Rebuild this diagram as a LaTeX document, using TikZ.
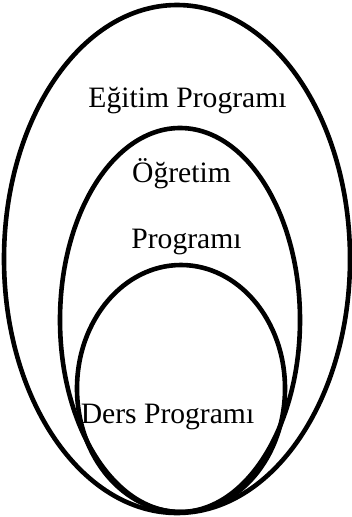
\documentclass[tikz,border=0pt]{standalone}
\usepackage{fontspec}
\setmainfont{Liberation Serif}
\begin{document}
\begin{tikzpicture}[x=1pt,y=-1pt,
  ring/.style={draw=black,line width=4.6pt},
  label/.style={anchor=base,inner sep=0pt,font=\fontsize{29.6}{35}\selectfont}]
\useasboundingbox (0,0) rectangle (351,517);
% nested programme levels, all touching at the bottom
\draw[ring] (177,259) ellipse [x radius=173, y radius=254];
\draw[ring] (180,320) ellipse [x radius=120, y radius=192];
\draw[ring] (181,388.5) ellipse [x radius=104, y radius=123.5];
\node[label] (egitim) at (187.5,107) {Eğitim Programı};
\node[label] (ogretim1) at (181.5,182) {Öğretim};
\node[label] (ogretim2) at (186.5,248) {Programı};
\node[label] (ders) at (167.5,423) {Ders Programı};
\end{tikzpicture}
\end{document}
